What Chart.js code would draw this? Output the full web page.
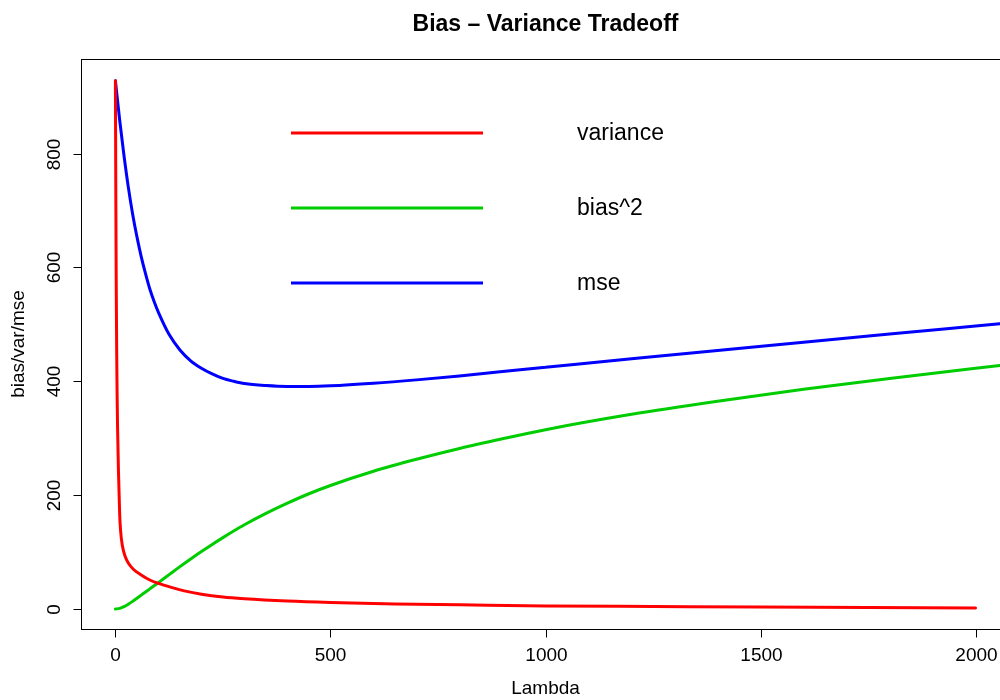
<!DOCTYPE html>
<html>
<head>
<meta charset="utf-8">
<title>Bias - Variance Tradeoff</title>
<script src="https://cdn.jsdelivr.net/npm/chart.js@4/dist/chart.umd.min.js"></script>
<style>
  html, body { margin: 0; padding: 0; background: #fff; overflow: hidden; }
</style>
</head>
<body>
<canvas id="chart" width="1010" height="700"></canvas>
<script>
// lambda grid for the variance curve (dense near 0, where it falls steeply)
const varLambda = [0, 0.5, 1, 2, 3, 4, 5, 7, 10, 12, 16, 23, 30, 43, 60, 80, 100, 130, 160, 200,
  250, 300, 400, 500, 650, 800, 1000, 1250, 1500, 1750, 2000];
const varianceVals = [928, 830, 720, 560, 450, 375, 320, 245, 165, 138, 112, 92, 81, 69, 60, 51, 45, 38, 32, 26,
  21, 18, 14, 11.5, 9, 7.5, 5.5, 4.5, 3.5, 2.8, 2];

// lambda grid for bias^2 and mse
const fitLambda = [0, 10, 20, 30, 40, 50, 60, 70, 80, 90, 100, 125, 150, 175, 200, 225, 250, 275, 300,
  350, 400, 450, 500, 600, 700, 800, 900, 1000, 1200, 1400, 1600, 1800, 2000, 2100];
const biasVals = [0, 1.2, 4.2, 8.5, 13.5, 19, 24.5, 30, 35.5, 41, 46.5, 60.5, 74.5, 88, 101, 113.5, 125.5, 137, 148,
  168, 186, 202.5, 217, 242, 263, 282, 299, 315, 342, 365, 386, 405, 423, 431.5];
const mseVals = [928, 858, 796, 741, 694, 654, 619, 589, 562, 540, 521, 482, 455, 436, 423, 413, 405, 400, 396,
  392.5, 391, 391, 392, 396.5, 402.5, 409.5, 417, 424.5, 439.5, 454, 468.5, 483, 497, 504];

const xTicks = [0, 500, 1000, 1500, 2000];
const yTicks = [0, 200, 400, 600, 800];

const FONT = "'Liberation Sans', Arial, Helvetica, sans-serif";

function toPoints(xs, ys) {
  return xs.map((x, i) => ({ x: x, y: ys[i] }));
}

// base-graphics style axes: box, outward ticks, rotated y labels, plus a frameless legend
const baseAxes = {
  id: "baseAxes",
  afterDraw(chart) {
    const ctx = chart.ctx;
    const area = chart.chartArea;
    const xs = chart.scales.x;
    const ys = chart.scales.y;

    ctx.save();
    ctx.strokeStyle = "#000";
    ctx.lineWidth = 1;

    // plot box
    ctx.strokeRect(Math.round(area.left) + 0.5, Math.round(area.top) + 0.5,
      area.right - area.left, Math.round(area.bottom) - Math.round(area.top));

    ctx.fillStyle = "#000";
    ctx.font = "19px " + FONT;
    ctx.textAlign = "center";
    ctx.textBaseline = "middle";

    // x axis
    const yb = Math.round(area.bottom) + 0.5;
    xTicks.forEach((v) => {
      const px = Math.round(xs.getPixelForValue(v)) + 0.5;
      ctx.beginPath();
      ctx.moveTo(px, yb);
      ctx.lineTo(px, yb + 8);
      ctx.stroke();
      ctx.fillText(String(v), px, area.bottom + 27);
    });
    ctx.fillText("Lambda", (area.left + area.right) / 2, area.bottom + 60);

    // y axis
    const xl = Math.round(area.left) + 0.5;
    yTicks.forEach((v) => {
      const py = Math.round(ys.getPixelForValue(v)) + 0.5;
      ctx.beginPath();
      ctx.moveTo(xl - 8, py);
      ctx.lineTo(xl, py);
      ctx.stroke();
      ctx.save();
      ctx.translate(area.left - 26, py);
      ctx.rotate(-Math.PI / 2);
      ctx.fillText(String(v), 0, 0);
      ctx.restore();
    });
    ctx.save();
    ctx.translate(area.left - 62, (area.top + area.bottom) / 2);
    ctx.rotate(-Math.PI / 2);
    ctx.fillText("bias/var/mse", 0, 0);
    ctx.restore();

    // legend
    ctx.font = "23px " + FONT;
    ctx.textAlign = "left";
    chart.data.datasets.forEach((ds, i) => {
      const ly = area.top + 74 + i * 75;
      ctx.strokeStyle = ds.borderColor;
      ctx.lineWidth = 3;
      ctx.beginPath();
      ctx.moveTo(area.left + 210, ly);
      ctx.lineTo(area.left + 402, ly);
      ctx.stroke();
      ctx.fillText(ds.label, area.left + 496, ly + 1);
    });

    ctx.restore();
  },
};

const ctx = document.getElementById("chart").getContext("2d");
new Chart(ctx, {
  type: "line",
  data: {
    datasets: [
      {
        label: "variance",
        data: toPoints(varLambda, varianceVals),
        borderColor: "#ff0000",
      },
      {
        label: "bias^2",
        data: toPoints(fitLambda, biasVals),
        borderColor: "#00cd00",
      },
      {
        label: "mse",
        data: toPoints(fitLambda, mseVals),
        borderColor: "#0000ff",
      },
    ],
  },
  options: {
    responsive: false,
    animation: false,
    events: [],
    layout: {
      padding: { left: 81, right: 0, top: 0, bottom: 71 },
    },
    elements: {
      point: { radius: 0 },
      line: {
        borderWidth: 3,
        fill: false,
        cubicInterpolationMode: "monotone",
        borderJoinStyle: "round",
        borderCapStyle: "round",
      },
    },
    plugins: {
      legend: { display: false },
      tooltip: { enabled: false },
      title: {
        display: true,
        fullSize: false,
        text: "Bias \u2013 Variance Tradeoff",
        color: "#000",
        font: { family: FONT, size: 23, weight: "bold", lineHeight: 1.2 },
        padding: { top: 11, bottom: 20.4 },
      },
    },
    scales: {
      x: { type: "linear", display: false, min: -80, max: 2080 },
      y: { type: "linear", display: false, min: -35, max: 966 },
    },
  },
  plugins: [baseAxes],
});
</script>
</body>
</html>
